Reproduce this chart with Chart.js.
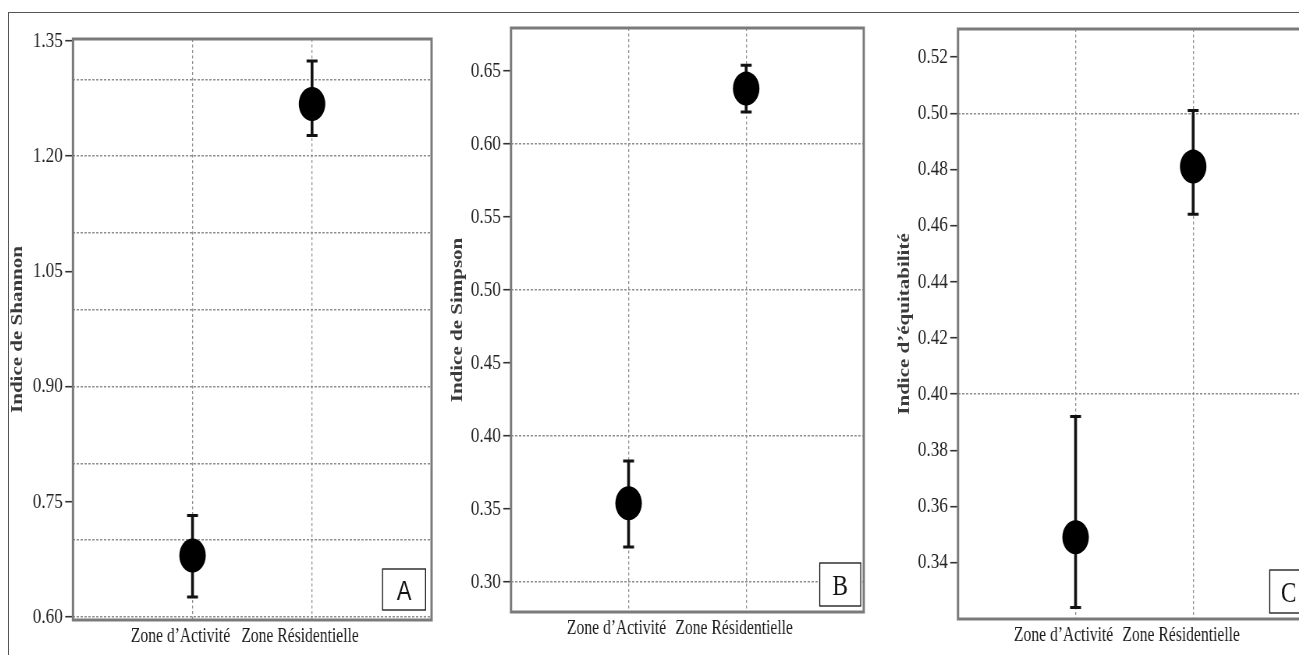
<!DOCTYPE html>
<html><head><meta charset="utf-8">
<script src="https://cdn.jsdelivr.net/npm/chart.js@4"></script>
<style>
html,body{margin:0;padding:0;width:1299px;height:655px;overflow:hidden;background:#fff;}
.panel{position:absolute;top:0;height:655px;transform-origin:0 0;}
.panel canvas{display:block;}
.bt{position:absolute;left:8px;top:12px;width:1400px;height:0;border-top:1.5px solid #555;z-index:5;}
.bl{position:absolute;left:8px;top:12px;width:0;height:660px;border-left:1.5px solid #555;z-index:5;}
</style></head>
<body>
<div class="panel" id="pA"><canvas id="cA"></canvas></div>
<div class="panel" id="pB"><canvas id="cB"></canvas></div>
<div class="panel" id="pC"><canvas id="cC"></canvas></div>
<div class="bt"></div><div class="bl"></div>
<script>
// ---------- data ----------
const categories = ['Zone d’Activité', 'Zone Résidentielle'];

const shannonMean = [0.680, 1.268];
const shannonLow  = [0.626, 1.227];
const shannonHigh = [0.732, 1.324];

const simpsonMean = [0.354, 0.638];
const simpsonLow  = [0.324, 0.622];
const simpsonHigh = [0.383, 0.654];

const equitMean = [0.349, 0.481];
const equitLow  = [0.324, 0.464];
const equitHigh = [0.392, 0.501];

const shannonTicks = [0.60, 0.75, 0.90, 1.05, 1.20, 1.35];
const shannonGrid  = [0.60, 0.70, 0.80, 0.90, 1.00, 1.10, 1.20, 1.30];
const simpsonTicks = [0.30, 0.35, 0.40, 0.45, 0.50, 0.55, 0.60, 0.65];
const simpsonGrid  = [0.30, 0.40, 0.50, 0.60];
const equitTicks = [0.34, 0.36, 0.38, 0.40, 0.42, 0.44, 0.46, 0.48, 0.50, 0.52];
const equitGrid  = [0.40, 0.50];

// ---------- layout / style ----------
const SX = 0.78;          // horizontal squash of the original picture
const H = 655;
const has = (arr, v) => arr.some(a => Math.abs(a - v) < 1e-6);

const decoPlugin = {
  id: 'deco',
  beforeDatasetsDraw(chart, args, o) {
    const ctx = chart.ctx, yS = chart.scales.y, meta = chart.getDatasetMeta(0);
    ctx.save();
    ctx.strokeStyle = '#111';
    o.low.forEach((lo, i) => {
      const x = meta.data[i + 1].x;
      const yl = yS.getPixelForValue(lo), yh = yS.getPixelForValue(o.high[i]);
      ctx.lineWidth = 3.6;
      ctx.beginPath(); ctx.moveTo(x, yl); ctx.lineTo(x, yh); ctx.stroke();
      ctx.lineWidth = 3;
      ctx.beginPath();
      ctx.moveTo(x - 7, yl); ctx.lineTo(x + 7, yl);
      ctx.moveTo(x - 7, yh); ctx.lineTo(x + 7, yh);
      ctx.stroke();
    });
    ctx.restore();
  },
  afterDatasetsDraw(chart, args, o) {
    const ctx = chart.ctx, a = chart.chartArea;
    ctx.save();
    ctx.strokeStyle = '#7a7a7a'; ctx.lineWidth = 3;
    ctx.strokeRect(a.left, a.top, a.right - a.left, a.bottom - a.top);
    // letter box
    const bw = o.boxW / SX, bh = o.boxH;
    const bx = a.right - o.boxRight / SX - bw, by = a.bottom - o.boxBottom - bh;
    ctx.fillStyle = '#fff'; ctx.fillRect(bx, by, bw, bh);
    ctx.strokeStyle = '#111'; ctx.lineWidth = 1.3;
    ctx.strokeRect(bx, by, bw, bh);
    ctx.fillStyle = '#111';
    ctx.font = o.letterFont;
    ctx.textAlign = 'center'; ctx.textBaseline = 'middle';
    ctx.fillText(o.letter, bx + bw / 2, by + bh / 2 + 3);
    ctx.restore();
  }
};

function makePanel(p) {
  const W = p.canvasW;
  const el = document.getElementById(p.panel);
  el.style.left = p.left + 'px';
  el.style.width = W + 'px';
  el.style.transform = 'scaleX(' + SX + ')';
  const cv = document.getElementById(p.canvas);
  cv.width = W; cv.height = H;
  const yAxisW = (p.chartLeft - p.left) / SX;
  const rightPad = W - (p.chartRight - p.left) / SX;
  const allTicks = [...new Set([...p.ticks, ...p.grid].map(v => +v.toFixed(4)))].sort((a, b) => a - b);

  new Chart(cv, {
    type: 'line',
    data: {
      labels: ['', ...categories, ''],
      datasets: [{
        data: [null, ...p.mean, null],
        showLine: false,
        pointRadius: 17,
        pointHoverRadius: 17,
        pointStyle: 'circle',
        pointBackgroundColor: '#000',
        pointBorderWidth: 0,
        clip: false
      }]
    },
    options: {
      responsive: false,
      animation: false,
      events: [],
      layout: { padding: { top: p.chartTop, right: rightPad, left: 0, bottom: 0 } },
      plugins: {
        legend: { display: false },
        tooltip: { enabled: false },
        deco: { low: p.low, high: p.high, letter: p.letter, letterFont: p.letterFont,
                boxW: p.boxW, boxH: p.boxH, boxRight: p.boxRight, boxBottom: p.boxBottom }
      },
      scales: {
        x: {
          type: 'category',
          offset: false,
          border: { display: false, dash: [3, 2.5] },
          grid: {
            drawTicks: false,
            color: ctx => (ctx.index === 1 || ctx.index === 2) ? '#8f8f8f' : 'rgba(0,0,0,0)',
            lineWidth: 1.3
          },
          ticks: {
            autoSkip: false, maxRotation: 0, minRotation: 0,
            labelOffset: -12 / SX,
            padding: 5,
            color: '#1a1a1a',
            font: { family: 'Liberation Serif', size: 20 }
          },
          afterFit: s => { s.height = H - p.chartBottom; }
        },
        y: {
          type: 'linear',
          min: p.min, max: p.max,
          border: { display: false, dash: [3, 2] },
          afterBuildTicks: s => { s.ticks = allTicks.map(v => ({ value: v })); },
          grid: {
            drawTicks: true,
            tickLength: 10,
            tickWidth: 1.6,
            color: ctx => has(p.grid, ctx.tick.value) ? '#8f8f8f' : 'rgba(0,0,0,0)',
            tickColor: ctx => has(p.ticks, ctx.tick.value) ? '#333' : 'rgba(0,0,0,0)',
            lineWidth: 1.4
          },
          ticks: {
            autoSkip: false,
            padding: 3,
            color: '#222',
            font: { family: 'Liberation Serif', size: 22 },
            callback: v => has(p.ticks, v) ? v.toFixed(2) : ''
          },
          title: {
            display: true,
            text: p.title,
            color: '#3a3a3a',
            padding: { top: 0, bottom: 0 },
            font: { family: 'Liberation Serif', size: 21, weight: 'bold' }
          },
          afterFit: s => { s.width = yAxisW; }
        }
      }
    },
    plugins: [decoPlugin]
  });
}

makePanel({
  panel: 'pA', canvas: 'cA', left: 8, canvasW: 560,
  chartLeft: 73, chartRight: 433, chartTop: 39, chartBottom: 620,
  min: 0.596, max: 1.3526,
  mean: shannonMean, low: shannonLow, high: shannonHigh,
  ticks: shannonTicks, grid: shannonGrid,
  title: 'Indice de Shannon',
  letter: 'A', letterFont: '28px "Liberation Sans"',
  boxW: 43, boxH: 41, boxRight: 6, boxBottom: 10
});
makePanel({
  panel: 'pB', canvas: 'cB', left: 448, canvasW: 550,
  chartLeft: 511, chartRight: 867, chartTop: 28, chartBottom: 612,
  min: 0.2795, max: 0.6795,
  mean: simpsonMean, low: simpsonLow, high: simpsonHigh,
  ticks: simpsonTicks, grid: simpsonGrid,
  title: 'Indice de Simpson',
  letter: 'B', letterFont: '30px "Liberation Serif"',
  boxW: 41, boxH: 43, boxRight: 3, boxBottom: 6
});
makePanel({
  panel: 'pC', canvas: 'cC', left: 895, canvasW: 550,
  chartLeft: 958, chartRight: 1312, chartTop: 29, chartBottom: 619,
  min: 0.3199, max: 0.5300,
  mean: equitMean, low: equitLow, high: equitHigh,
  ticks: equitTicks, grid: equitGrid,
  title: 'Indice d’équitabilité',
  letter: 'C', letterFont: '30px "Liberation Serif"',
  boxW: 38, boxH: 43, boxRight: 3, boxBottom: 6
});
</script>
</body></html>
